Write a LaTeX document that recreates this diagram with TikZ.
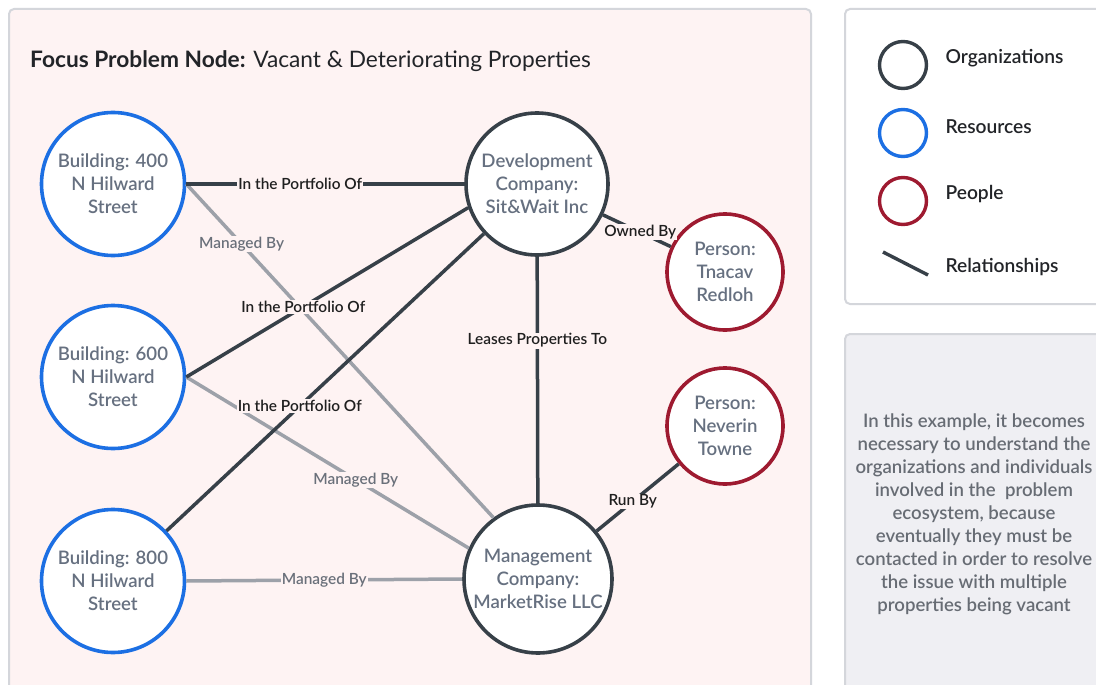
\documentclass[tikz,border=0pt]{standalone}
\usepackage{fontspec}
\setmainfont{Lato}
\newfontfamily\semib{Lato Semibold}

\definecolor{panelfill}{HTML}{FEF3F3}
\definecolor{panelline}{HTML}{D4D6DB}
\definecolor{notefill}{HTML}{EFEFF3}
\definecolor{orgc}{HTML}{374048}
\definecolor{resc}{HTML}{1C6FE3}
\definecolor{peoc}{HTML}{9E1A30}
\definecolor{mgline}{HTML}{9DA1A9}
\definecolor{nodetext}{HTML}{667080}
\definecolor{labeltext}{HTML}{1F1F1F}
\definecolor{mgtext}{HTML}{6A707A}
\definecolor{titletext}{HTML}{222428}
\definecolor{notetext}{HTML}{676C74}

\tikzset{
  entity/.style={circle, fill=white, line width=3.6pt, text=nodetext, align=center,
    inner sep=0pt, font={\semib\fontsize{18.6}{23}\selectfont}},
  org/.style={entity, draw=orgc, minimum size=142pt},
  res/.style={entity, draw=resc, minimum size=143pt},
  person/.style={entity, draw=peoc, minimum size=116pt},
  owns/.style={draw=orgc, line width=3.5pt},
  manages/.style={draw=mgline, line width=3.5pt},
  rellabel/.style={fill=panelfill, inner sep=1pt, text=labeltext,
    font={\semib\fontsize{15.4}{18}\selectfont}},
  mglabel/.style={rellabel, text=mgtext},
  legendtext/.style={anchor=west, text=titletext, font={\semib\fontsize{19.2}{22}\selectfont}},
  legendring/.style={circle, line width=3.4pt, minimum size=47pt, inner sep=0pt},
}

\begin{document}
\begin{tikzpicture}[x=1pt, y=-1pt]
\path[use as bounding box, clip] (0,0) rectangle (1096,685);
\fill[white] (0,0) rectangle (1096,685);

% main panel
\draw[draw=panelline, fill=panelfill, line width=2pt, rounded corners=5pt] (9,9) rectangle (811,700);
\node[anchor=base west, inner sep=0pt, text=titletext, font={\fontsize{22.7}{27}\selectfont}] (title) at (30,67)
  {\textbf{Focus Problem Node:} Vacant \& Deteriorating Properties};

% entities
\node[res] (b400) at (113,184) {Building: 400\\N Hilward\\Street};
\node[res] (b600) at (113,377) {Building: 600\\N Hilward\\Street};
\node[res] (b800) at (113,581) {Building: 800\\N Hilward\\Street};
\node[org] (dev) at (537,184) {Development\\Company:\\Sit\&Wait Inc};
\node[org, minimum size=148pt] (mgmt) at (538,579) {Management\\Company:\\MarketRise LLC};
\node[person] (tnacav) at (725,272) {Person:\\Tnacav\\Redloh};
\node[person] (neverin) at (725,426) {Person:\\Neverin\\Towne};

% relationships: management links first, ownership links on top
\path[manages] (b400.east) -- node[mglabel, pos=0.18] (l2) {Managed By} (mgmt.126);
\path[manages] (b600.east) -- node[mglabel, pos=0.60] (l4) {Managed By} (mgmt.156);
\path[manages] (b800.east) -- node[mglabel, pos=0.50] (l6) {Managed By} (mgmt.west);
\path[owns] (b400.east) -- node[rellabel, pos=0.41] (l1) {In the Portfolio Of} (dev.west);
\path[owns] (b600.east) -- node[rellabel, pos=0.415] (l3) {In the Portfolio Of} (dev.199);
\path[owns] (b800) -- node[rellabel, pos=0.42] (l5) {In the Portfolio Of} (dev);
\path[owns] (dev) -- node[rellabel, pos=0.34] (l7) {Leases Properties To} (mgmt);
\path[owns] (dev) -- node[rellabel, pos=0.55] (l8) {Owned By} (tnacav);
\path[owns] (mgmt) -- node[rellabel, pos=0.44] (l9) {Run By} (neverin);

% legend
\draw[draw=panelline, fill=white, line width=2pt, rounded corners=5pt] (845,9) rectangle (1110,304);
\node[legendring, draw=orgc] (korg) at (903,65) {};
\node[legendring, draw=resc] (kres) at (903,133) {};
\node[legendring, draw=peoc] (kpeo) at (903,201) {};
\coordinate (krel1) at (883,252);
\coordinate (krel2) at (928,275);
\draw[draw=orgc, line width=3.4pt] (krel1) -- (krel2);
\node[legendtext] (torg) at (942,58) {Organizations};
\node[legendtext] (tres) at (942,127) {Resources};
\node[legendtext] (tpeo) at (942,194) {People};
\node[legendtext] (trel) at (942,267) {Relationships};

% note
\draw[draw=panelline, fill=notefill, line width=2pt, rounded corners=5pt] (845,334) rectangle (1110,700);
\node[align=center, text=notetext, font={\semib\fontsize{18.6}{23}\selectfont}] (note) at (974,514)
  {In this example, it becomes\\necessary to understand the\\organizations and individuals\\involved in the\ \ problem\\ecosystem, because\\eventually they must be\\contacted in order to resolve\\the issue with multiple\\properties being vacant};
\end{tikzpicture}
\end{document}
